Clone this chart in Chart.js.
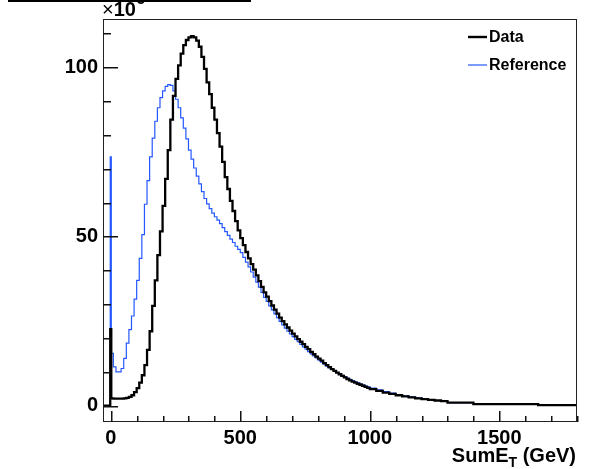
<!DOCTYPE html>
<html>
<head>
<meta charset="utf-8">
<script src="https://cdn.jsdelivr.net/npm/chart.js@4.4.0/dist/chart.umd.min.js"></script>
<style>
  body { margin: 0; background: #fff; }
  #wrap { width: 596px; height: 469px; }
</style>
</head>
<body>
<div id="wrap"><canvas id="sumEtChart" width="596" height="469"></canvas></div>
<script>
// bin edges in GeV (variable width, like the original histogram)
const binEdges = [
  -30, -2, 2, 10,
  20, 30, 40, 50, 60, 70, 80, 90, 100, 110, 120, 130, 140, 150, 160, 170, 180, 190, 200,
  210, 220, 230, 240, 250, 260, 270, 280, 290, 300, 310, 320, 330, 340, 350, 360, 370, 380, 390, 400,
  410, 420, 430, 440, 450, 460, 470, 480, 490, 500, 510, 520, 530, 540, 550, 560, 570, 580, 590, 600,
  610, 620, 630, 640, 650, 660, 670, 680, 690, 700, 710, 720, 730, 740, 750, 760, 770, 780, 790, 800,
  810, 820, 830, 840, 850, 860, 870, 880, 890, 900, 910, 920, 930, 940, 950, 960, 970, 980, 990, 1000,
  1025, 1050, 1075, 1100, 1125, 1150, 1175, 1200, 1225, 1250, 1275, 1300,
  1400, 1650, 1800
];

// entries per bin, in units of 10^3
const dataValues = [
  0, 22.6, 2.2,
  2.1, 2.1, 2.1, 2.1, 2.2, 2.3, 2.6, 3.1, 4.0, 5.2,
  6.8, 9.0, 12.0, 16.5, 22.0, 29.5, 37.0, 44.5, 51.5, 59.0,
  67.0, 75.5, 84.5, 91.5, 96.5, 100.5, 104.0, 106.5, 108.0, 108.8,
  109.1, 108.8, 107.8, 106.0, 103.0, 99.5, 95.5, 92.0, 88.0, 84.5,
  80.5, 76.5, 72.0, 67.5, 64.0, 60.5, 57.5, 54.5, 51.8, 49.5,
  47.4, 45.4, 43.5, 41.8, 40.2, 38.5, 36.8, 35.1, 33.5,
  32.2, 30.9, 29.6, 28.4, 27.2, 26.0, 25.0, 24.0, 23.1, 22.2,
  21.3, 20.5, 19.7, 18.9, 18.2, 17.4, 16.7, 15.9, 15.2, 14.5,
  13.9, 13.3, 12.6, 12.0, 11.4, 10.8, 10.3, 9.8, 9.3, 8.8,
  8.4, 7.9, 7.5, 7.1, 6.8, 6.5, 6.2, 5.9, 5.6, 5.3,
  4.9, 4.4, 3.9, 3.5, 3.1, 2.75, 2.45, 2.2, 1.95, 1.75, 1.55, 1.35,
  0.9, 0.5, 0.2
];

const referenceValues = [
  0, 73.5, 15.5,
  11.5, 10.0, 10.0, 11.0, 14.0, 18.5, 22.5, 26.5, 31.5, 37.0,
  43.5, 50.5, 59.5, 66.5, 73.5, 79.0, 84.0, 88.0, 91.0, 93.0,
  94.3, 94.8, 94.6, 93.0, 90.5, 88.0, 85.0, 82.0, 78.8, 75.5,
  72.8, 70.2, 67.8, 65.5, 63.2, 61.2, 59.6, 58.2, 56.9, 55.8,
  54.8, 53.8, 52.6, 51.4, 50.3, 49.2, 48.2, 47.1, 46.2, 45.2,
  43.8, 42.4, 41.0, 39.5, 38.0, 36.5, 35.0, 33.5, 32.0,
  30.8, 29.5, 28.3, 27.1, 26.0, 24.9, 23.9, 22.9, 22.0, 21.2,
  20.4, 19.6, 18.9, 18.1, 17.4, 16.7, 16.0, 15.3, 14.7, 14.1,
  13.5, 12.9, 12.3, 11.7, 11.2, 10.7, 10.2, 9.8, 9.4, 8.95,
  8.55, 8.15, 7.8, 7.4, 7.05, 6.75, 6.45, 6.15, 5.85, 5.55,
  5.2, 4.7, 4.2, 3.7, 3.3, 2.95, 2.6, 2.3, 2.0, 1.8, 1.55, 1.35,
  0.9, 0.5, 0.2
];

// tick positions (labelled ones listed separately)
const xTickValues = [0, 100, 200, 300, 400, 500, 600, 700, 800, 900, 1000, 1100, 1200, 1300, 1400, 1500, 1600, 1700, 1800];
const xTickLabels = [0, 500, 1000, 1500];
const yTickValues = [0, 10, 20, 30, 40, 50, 60, 70, 80, 90, 100, 110];
const yTickLabels = [0, 50, 100];
const seriesNames = ['Data', 'Reference'];

const FONT = "'Liberation Sans', Arial, Helvetica, sans-serif";
const BLUE = '#2458ff';

// histogram outline: each bin's value held from its low edge to the next edge
function toSteps(values) {
  const pts = values.map((v, i) => ({ x: binEdges[i], y: v }));
  pts.push({ x: binEdges[binEdges.length - 1], y: values[values.length - 1] });
  return pts;
}

const rootFrame = {
  id: 'rootFrame',
  afterDraw(chart) {
    const ctx = chart.ctx;
    const a = chart.chartArea;
    const xs = chart.scales.x, ys = chart.scales.y;
    ctx.save();

    // frame
    ctx.strokeStyle = '#222';
    ctx.lineWidth = 1;
    ctx.strokeRect(a.left + 0.5, a.top + 0.5, a.right - a.left - 1, a.bottom - a.top - 1);

    // inward ticks
    ctx.fillStyle = '#111';
    xTickValues.forEach(v => {
      const px = Math.round(xs.getPixelForValue(v));
      const len = xTickLabels.includes(v) ? 11 : 6;
      ctx.fillRect(px, a.bottom - len, 1.5, len);
    });
    yTickValues.forEach(v => {
      const py = Math.round(ys.getPixelForValue(v));
      const len = yTickLabels.includes(v) ? 15 : 8;
      ctx.fillRect(a.left, py, len, 1.5);
    });

    // x axis title: SumE_T (GeV)
    ctx.fillStyle = '#000';
    ctx.textBaseline = 'alphabetic';
    const big = 'bold 20px ' + FONT, small = 'bold 14px ' + FONT;
    ctx.font = big;
    const w1 = ctx.measureText('SumE').width;
    const w3 = ctx.measureText(' (GeV)').width;
    ctx.font = small;
    const w2 = ctx.measureText('T').width;
    const x0 = 576 - (w1 + w2 + w3);
    ctx.font = big;
    ctx.fillText('SumE', x0, 462);
    ctx.font = small;
    ctx.fillText('T', x0 + w1, 467);
    ctx.font = big;
    ctx.fillText(' (GeV)', x0 + w1 + w2, 462);

    // exponent above the frame
    ctx.font = '20px ' + FONT;
    ctx.fillText('\u00d7', 102, 16);
    const wx = ctx.measureText('\u00d7').width;
    ctx.font = big;
    ctx.fillText('10', 102 + wx, 16);
    const w10 = ctx.measureText('10').width;
    ctx.font = small;
    ctx.fillText('3', 103 + wx + w10, 4);

    // title box, mostly cut off at the top
    ctx.strokeStyle = '#000';
    ctx.lineWidth = 2;
    ctx.strokeRect(9, -20, 241, 21);

    // legend
    const rows = [
      { name: seriesNames[0], color: '#000', width: 2.4, y: 37 },
      { name: seriesNames[1], color: BLUE, width: 1.2, y: 65 }
    ];
    ctx.font = 'bold 16px ' + FONT;
    ctx.textBaseline = 'middle';
    rows.forEach(r => {
      ctx.strokeStyle = r.color;
      ctx.lineWidth = r.width;
      ctx.beginPath();
      ctx.moveTo(468, r.y);
      ctx.lineTo(487, r.y);
      ctx.stroke();
      ctx.fillStyle = '#000';
      ctx.fillText(r.name, 489, r.y + 1);
    });

    ctx.restore();
  }
};

const tickFont = { family: FONT, size: 20, weight: 'bold' };

new Chart(document.getElementById('sumEtChart').getContext('2d'), {
  type: 'line',
  data: {
    datasets: [
      {
        label: seriesNames[0],
        data: toSteps(dataValues),
        borderColor: '#000',
        borderWidth: 2.3,
        stepped: 'before',
        pointRadius: 0,
        fill: false
      },
      {
        label: seriesNames[1],
        data: toSteps(referenceValues),
        borderColor: BLUE,
        borderWidth: 1.2,
        stepped: 'before',
        pointRadius: 0,
        fill: false
      }
    ]
  },
  options: {
    responsive: false,
    animation: false,
    layout: { padding: { top: 19, right: 19, left: 0, bottom: 0 } },
    plugins: {
      legend: { display: false },
      tooltip: { enabled: false }
    },
    scales: {
      x: {
        type: 'linear',
        min: -30,
        max: 1800,
        grid: { display: false, drawTicks: false },
        border: { display: false },
        afterBuildTicks: s => { s.ticks = xTickValues.map(v => ({ value: v })); },
        ticks: {
          autoSkip: false,
          maxRotation: 0,
          padding: 4,
          color: '#000',
          font: tickFont,
          callback: v => xTickLabels.includes(v) ? String(v) : ''
        },
        afterFit: s => { s.height = 47; }
      },
      y: {
        min: -4.8,
        max: 114.2,
        grid: { display: false, drawTicks: false },
        border: { display: false },
        afterBuildTicks: s => { s.ticks = yTickValues.map(v => ({ value: v })); },
        ticks: {
          autoSkip: false,
          padding: 5,
          color: '#000',
          font: tickFont,
          callback: v => yTickLabels.includes(v) ? String(v) : ''
        },
        afterFit: s => { s.width = 103; }
      }
    }
  },
  plugins: [rootFrame]
});
</script>
</body>
</html>
